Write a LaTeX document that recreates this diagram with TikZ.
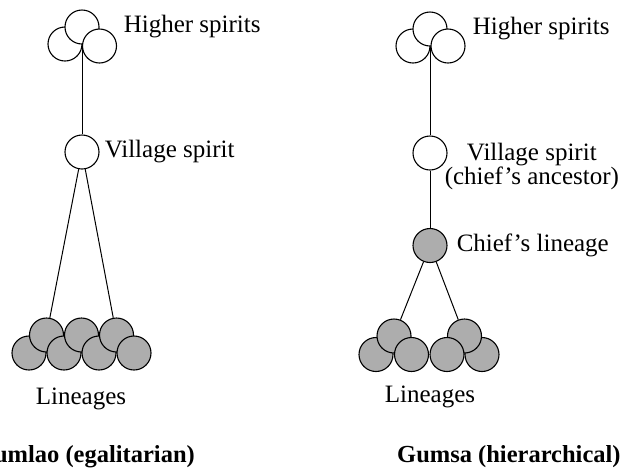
\documentclass[tikz,border=0pt]{standalone}
\usepackage{fontspec}
\setmainfont{Liberation Serif}
\usetikzlibrary{positioning}

\definecolor{lineagegray}{gray}{0.68}

\begin{document}
\begin{tikzpicture}[x=1pt, y=-1pt,
	spirit/.style={circle, draw, fill=white, line width=1.1pt, minimum size=34pt, inner sep=0pt},
	lineage/.style={spirit, fill=lineagegray},
	txt/.style={inner sep=0pt, anchor=west, font=\fontsize{25}{20}\selectfont},
	title/.style={inner sep=0pt, font=\fontsize{24.5}{26}\selectfont\bfseries},
	link/.style={line width=1pt}]
	\useasboundingbox (0,0) rectangle (627,467);

	% Gumlao (egalitarian)
	\node[spirit] (hlL) at (65,44) {};
	\node[spirit] (htL) at (82,27) {};
	\node[spirit] (hrL) at (99.5,46) {};
	\node[txt, right=24pt of htL] (higherL) {Higher spirits};
	\node[spirit] (villageL) at (82,152) {};
	\node[txt, right=5pt of villageL] (villagetxtL) {Village spirit};
	\foreach \x/\y [count=\i] in {29/353, 46.5/335, 64/353, 81.5/335, 99/353, 116.5/335, 134/353} {
		\node[lineage] (gl\i) at (\x,\y) {};
	}
	\node[txt, anchor=center] (lineagesL) at (81,399) {Lineages};
	\node[title, anchor=east] (gumlao) at (195,457) {Gumlao (egalitarian)};
	\draw[link] (htL.south) -- (villageL);
	\draw[link] (villageL) -- (gl2);
	\draw[link] (villageL) -- (gl6);

	% Gumsa (hierarchical)
	\node[spirit] (hlR) at (413,46) {};
	\node[spirit] (htR) at (430,29) {};
	\node[spirit] (hrR) at (448,46) {};
	\node[txt, right=25pt of htR] (higherR) {Higher spirits};
	\node[spirit] (villageR) at (430,153) {};
	\node[txt, anchor=north west, align=center] (villagetxtR) at ([xshift=-3pt, yshift=10pt]villageR.east) {Village spirit\\(chief's ancestor)};
	\node[lineage] (chief) at (430,245.5) {};
	\node[txt, right=9pt of chief] (chieftxt) {Chief's lineage};
	\foreach \x/\y [count=\i] in {376/354.5, 394/336, 411.5/354.5, 482/354.5, 464.5/336, 447/354.5} {
		\node[lineage] (gs\i) at (\x,\y) {};
	}
	\node[txt, anchor=center] (lineagesR) at (430,397) {Lineages};
	\node[title, anchor=west] (gumsa) at (397,457) {Gumsa (hierarchical)};
	\draw[link] (htR.south) -- (villageR);
	\draw[link] (villageR) -- (chief);
	\draw[link] (chief) -- (gs2);
	\draw[link] (chief) -- (gs5);
\end{tikzpicture}
\end{document}
